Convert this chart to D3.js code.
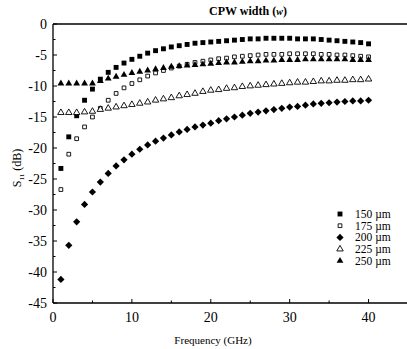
<!DOCTYPE html>
<html>
<head>
<meta charset="utf-8">
<script src="https://cdn.jsdelivr.net/npm/d3@7"></script>
<style>
  body { margin: 0; background: #fff; }
  svg { display: block; font-family: "Liberation Serif", "DejaVu Serif", serif; }
</style>
</head>
<body>
<svg id="chart" width="407" height="349"></svg>
<script>
// frequency points (GHz)
const freq = d3.range(1, 41);

// S11 (dB) for each CPW width
const s150 = [-23.3, -18.2, -14.8, -12.3, -10.5, -8.9, -7.8, -7.0, -6.3, -5.7,
  -5.2, -4.7, -4.3, -4.0, -3.7, -3.5, -3.3, -3.1, -3.0, -2.9,
  -2.8, -2.7, -2.6, -2.5, -2.4, -2.4, -2.3, -2.3, -2.3, -2.3,
  -2.4, -2.4, -2.4, -2.5, -2.6, -2.7, -2.8, -2.9, -3.0, -3.2];
const s175 = [-26.7, -21.0, -18.5, -16.6, -15.0, -13.6, -12.3, -11.2, -10.3, -9.6,
  -9.0, -8.4, -7.9, -7.5, -7.1, -6.8, -6.5, -6.2, -6.0, -5.8,
  -5.6, -5.5, -5.3, -5.2, -5.1, -5.0, -4.9, -4.9, -4.9, -4.8,
  -4.8, -4.8, -4.8, -4.9, -4.9, -5.0, -5.0, -5.1, -5.2, -5.3];
const s200 = [-41.2, -35.7, -31.9, -29.1, -27.1, -25.5, -24.1, -22.9, -21.9, -21.0,
  -20.2, -19.5, -18.9, -18.4, -17.9, -17.4, -17.0, -16.6, -16.3, -16.0,
  -15.6, -15.3, -15.0, -14.7, -14.4, -14.2, -14.0, -13.8, -13.6, -13.4,
  -13.3, -13.1, -12.9, -12.8, -12.7, -12.6, -12.5, -12.4, -12.4, -12.3];
const s225 = [-14.3, -14.3, -14.3, -14.2, -14.1, -13.8, -13.6, -13.4, -13.2, -13.0,
  -12.8, -12.6, -12.3, -12.1, -11.9, -11.6, -11.4, -11.2, -10.9, -10.7,
  -10.6, -10.4, -10.3, -10.1, -10.0, -9.9, -9.8, -9.7, -9.6, -9.5,
  -9.4, -9.4, -9.3, -9.2, -9.2, -9.1, -9.1, -9.0, -9.0, -8.9];
const s250 = [-9.6, -9.6, -9.6, -9.6, -9.6, -9.2, -8.8, -8.5, -8.2, -7.9,
  -7.7, -7.5, -7.3, -7.1, -6.9, -6.8, -6.7, -6.6, -6.5, -6.4,
  -6.3, -6.2, -6.2, -6.1, -6.0, -6.0, -5.9, -5.9, -5.8, -5.8,
  -5.8, -5.7, -5.7, -5.7, -5.7, -5.7, -5.7, -5.8, -5.8, -5.8];

const seriesNames = ["150 \u00b5m", "175 \u00b5m", "200 \u00b5m", "225 \u00b5m", "250 \u00b5m"];
const xTicks = [0, 10, 20, 30, 40];
const yTicks = [0, -5, -10, -15, -20, -25, -30, -35, -40, -45];

const svg = d3.select("#chart");

const x = d3.scaleLinear().domain([0, 45]).range([53, 408]);
const y = d3.scaleLinear().domain([-45, 0]).range([303, 24]);

// marker look per series
const markers = [
  { type: d3.symbolSquare, size: 24, fill: "#000", stroke: "none", rot: 0 },
  { type: d3.symbolSquare, size: 14, fill: "#fff", stroke: "#000", rot: 0 },
  { type: d3.symbolSquare, size: 26, fill: "#000", stroke: "none", rot: 45 },
  { type: d3.symbolTriangle, size: 18, fill: "#fff", stroke: "#000", rot: 0 },
  { type: d3.symbolTriangle, size: 20, fill: "#000", stroke: "none", rot: 0 }
];
const allSeries = [s150, s175, s200, s225, s250];

// frame: top and left + bottom axis lines
svg.append("line").attr("x1", x(0)).attr("x2", 407).attr("y1", y(0)).attr("y2", y(0))
  .attr("stroke", "#000").attr("stroke-width", 1.3);
svg.append("line").attr("x1", x(0)).attr("x2", x(0)).attr("y1", y(0)).attr("y2", y(-45))
  .attr("stroke", "#000").attr("stroke-width", 1.3);
svg.append("line").attr("x1", x(0)).attr("x2", 407).attr("y1", y(-45)).attr("y2", y(-45))
  .attr("stroke", "#000").attr("stroke-width", 1.3);

// ticks, inward
d3.range(-45, 0.1, 2.5).forEach(v => {
  const len = v % 5 === 0 ? 4 : 2.5;
  svg.append("line").attr("x1", x(0)).attr("x2", x(0) + len)
    .attr("y1", y(v)).attr("y2", y(v)).attr("stroke", "#000");
});
d3.range(0, 45.1, 5).forEach(v => {
  const len = v % 10 === 0 ? 4 : 2.5;
  svg.append("line").attr("x1", x(v)).attr("x2", x(v))
    .attr("y1", y(-45)).attr("y2", y(-45) - len).attr("stroke", "#000");
});

// tick labels
svg.selectAll(".ylab").data(yTicks).join("text")
  .attr("x", 47).attr("y", d => y(d) + 5)
  .attr("text-anchor", "end").attr("font-size", 14)
  .text(d => d);
svg.selectAll(".xlab").data(xTicks).join("text")
  .attr("x", d => x(d)).attr("y", 322)
  .attr("text-anchor", "middle").attr("font-size", 14)
  .text(d => d);

// axis titles
svg.append("text").attr("x", 213).attr("y", 344).attr("text-anchor", "middle")
  .attr("font-size", 11).text("Frequency (GHz)");
const yl = svg.append("text").attr("transform", "translate(21,168) rotate(-90)")
  .attr("text-anchor", "middle").attr("font-size", 12);
yl.append("tspan").text("S");
yl.append("tspan").attr("font-size", 7).attr("dy", 3).text("11");
yl.append("tspan").attr("dy", -3).text(" (dB)");

// chart title
const tt = svg.append("text").attr("x", 248).attr("y", 15).attr("text-anchor", "middle")
  .attr("font-size", 12).attr("font-weight", "bold");
tt.append("tspan").text("CPW width  (");
tt.append("tspan").attr("font-style", "italic").attr("font-size", 10).text("w");
tt.append("tspan").text(")");

// data markers
allSeries.forEach((vals, i) => {
  const m = markers[i];
  const path = d3.symbol().type(m.type).size(m.size)();
  svg.append("g").selectAll("path").data(freq.map((f, j) => [f, vals[j]])).join("path")
    .attr("d", path)
    .attr("transform", d => `translate(${x(d[0])},${y(d[1])}) rotate(${m.rot})`)
    .attr("fill", m.fill).attr("stroke", m.stroke).attr("stroke-width", 0.9);
});

// legend
seriesNames.forEach((name, i) => {
  const m = markers[i];
  const ly = 214 + i * 11.7;
  svg.append("path").attr("d", d3.symbol().type(m.type).size(m.size)())
    .attr("transform", `translate(340,${ly}) rotate(${m.rot})`)
    .attr("fill", m.fill).attr("stroke", m.stroke).attr("stroke-width", 0.9);
  svg.append("text").attr("x", 355).attr("y", ly + 4).attr("font-size", 11.5).text(name);
});
</script>
</body>
</html>
